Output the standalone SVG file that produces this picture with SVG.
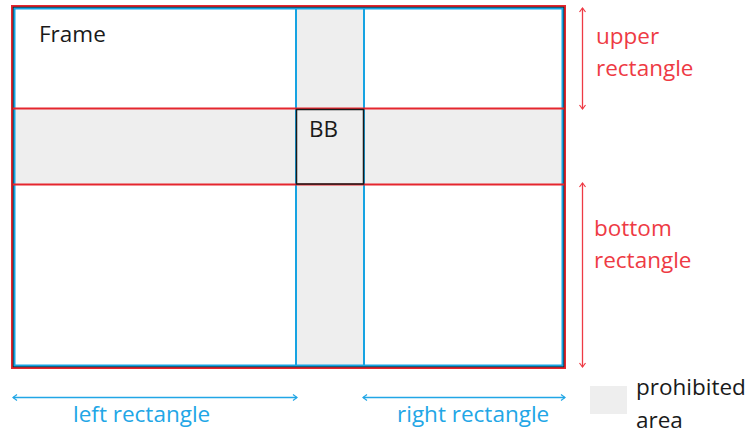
<svg xmlns="http://www.w3.org/2000/svg" width="750" height="435" viewBox="0 0 750 435">
  <style>
    text { font-family: "Open Sans", "Liberation Sans", sans-serif; font-size: 22.5px; }
    .dark { fill: #1a1a1a; }
    .redtxt { fill: #ee3a44; }
    .bluetxt { fill: #22a6e6; }
    .band { fill: #eeeeee; }
    .red { stroke: #e5262e; stroke-width: 2; fill: none; }
    .blue { stroke: #16a3e2; stroke-width: 2; fill: none; }
    .black { stroke: #1a1a1a; stroke-width: 1.5; fill: none; }
    .redarrow { stroke: #ee3a44; stroke-width: 1.3; fill: none; marker-start: url(#rhead); marker-end: url(#rhead); }
    .bluearrow { stroke: #22a6e6; stroke-width: 1.3; fill: none; marker-start: url(#bhead); marker-end: url(#bhead); }
  </style>
  <defs>
    <marker id="rhead" viewBox="0 0 10 10" refX="9" refY="5" markerWidth="10" markerHeight="10" markerUnits="userSpaceOnUse" orient="auto-start-reverse">
      <polyline points="5,2 9,5 5,8" fill="none" stroke="#ee3a44" stroke-width="1.2"/>
    </marker>
    <marker id="bhead" viewBox="0 0 10 10" refX="9" refY="5" markerWidth="10" markerHeight="10" markerUnits="userSpaceOnUse" orient="auto-start-reverse">
      <polyline points="5,2 9,5 5,8" fill="none" stroke="#22a6e6" stroke-width="1.2"/>
    </marker>
  </defs>

  <!-- prohibited bands -->
  <g id="bands">
    <rect class="band" x="13" y="109" width="551" height="75"/>
    <rect class="band" x="296" y="7" width="68" height="360"/>
  </g>

  <!-- frame: red, black and blue outlines -->
  <g id="frame">
    <rect class="red" x="12" y="6" width="553" height="362"/>
    <rect class="black" x="13.5" y="7.5" width="550" height="359"/>
    <rect class="blue" x="14.5" y="8.5" width="548" height="357"/>
    <text class="dark" x="39" y="42">Frame</text>
  </g>

  <!-- split lines -->
  <g id="lines">
    <line class="blue" x1="296" y1="8" x2="296" y2="366"/>
    <line class="blue" x1="364" y1="8" x2="364" y2="366"/>
    <line class="red" x1="13" y1="108.5" x2="564" y2="108.5"/>
    <line class="red" x1="13" y1="184.5" x2="564" y2="184.5"/>
  </g>

  <g id="bb">
    <rect class="black" x="296.5" y="109.5" width="67" height="74.5"/>
    <text class="dark" x="309" y="137">BB</text>
  </g>

  <!-- dimension arrows -->
  <g id="connectors">
    <line class="redarrow" x1="582.5" y1="8" x2="582.5" y2="109"/>
    <line class="redarrow" x1="582.5" y1="183" x2="582.5" y2="367"/>
    <line class="bluearrow" x1="13" y1="397.5" x2="297" y2="397.5"/>
    <line class="bluearrow" x1="363" y1="397.5" x2="565" y2="397.5"/>
  </g>

  <g id="upper-label">
    <text class="redtxt" x="596" y="44">upper</text>
    <text class="redtxt" x="596" y="76">rectangle</text>
  </g>
  <g id="bottom-label">
    <text class="redtxt" x="594" y="236">bottom</text>
    <text class="redtxt" x="594" y="268">rectangle</text>
  </g>
  <g id="left-label">
    <text class="bluetxt" x="73" y="422">left rectangle</text>
  </g>
  <g id="right-label">
    <text class="bluetxt" x="397" y="422">right rectangle</text>
  </g>

  <g id="legend">
    <rect class="band" x="590" y="386" width="37" height="28"/>
    <text class="dark" x="636" y="395">prohibited</text>
    <text class="dark" x="636" y="428">area</text>
  </g>
</svg>
